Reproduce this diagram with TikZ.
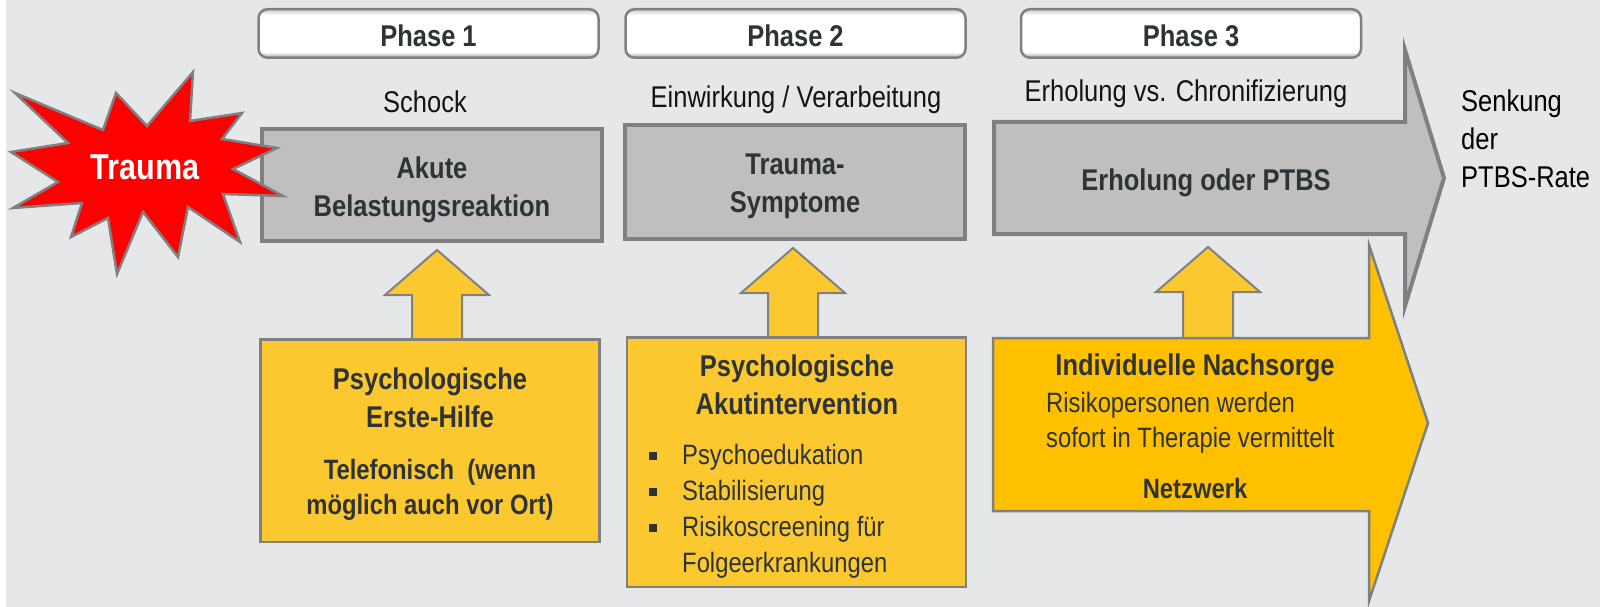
\documentclass[tikz,border=0pt]{standalone}
\usepackage{fontspec}
\setmainfont{Liberation Sans}[FakeStretch=0.85]
\usetikzlibrary{calc}

\definecolor{bggray}{RGB}{230,231,233}
\definecolor{boxgray}{RGB}{191,191,191}
\definecolor{linegray}{RGB}{128,128,128}
\definecolor{helpyellow}{RGB}{252,200,48}
\definecolor{careyellow}{RGB}{255,192,0}
\definecolor{darktext}{RGB}{46,52,54}
\definecolor{plaintext}{RGB}{20,20,20}
\definecolor{traumared}{RGB}{255,0,0}

% white button with a thin bevel at top and bottom
\pgfdeclareverticalshading{bevel}{100bp}{color(0bp)=(black!38); color(25bp)=(black!38);
  color(31bp)=(white); color(69bp)=(white); color(75bp)=(black!22); color(100bp)=(black!22)}

\tikzset{
  phasebox/.style={draw=linegray, line width=2.5pt, rounded corners=9pt,
    shading=bevel, minimum width=340pt, minimum height=48.5pt, inner sep=0pt,
    text height=27pt, text depth=0pt, text=darktext,
    font=\fontsize{30}{36}\selectfont\bfseries},
  subtitle/.style={anchor=base, inner sep=0pt, text=plaintext,
    font=\fontsize{30}{38}\selectfont},
  reactionbox/.style={draw=linegray, line width=4pt, fill=boxgray,
    minimum width=340pt, inner sep=0pt},
  boxlabel/.style={align=center, inner sep=0pt, text=darktext,
    font=\fontsize{30}{38}\selectfont\bfseries},
  smalllabel/.style={inner sep=0pt, text=darktext,
    font=\fontsize{28}{35}\selectfont},
  helpbox/.style={draw=linegray, line width=2.5pt, fill=helpyellow,
    minimum width=339pt, inner sep=0pt},
  liftarrow/.style={draw=linegray, line width=2pt, fill=helpyellow},
  bigarrow/.style={draw=linegray, line width=4pt, fill=boxgray},
  carearrow/.style={draw=linegray, line width=2.5pt, fill=careyellow},
  starburst/.style={draw=linegray, line width=2.5pt, fill=traumared, line join=miter}
}

% block arrow from a foot coordinate up to just below a box
\newcommand{\liftarrow}[2]{%
  \draw[liftarrow] let \p1=(#1), \p2=(#2) in
    (\x1-25pt,\y1) -- (\x1-25pt,\y2-52pt) -- (\x1-52pt,\y2-52pt) -- (\x1,\y2-7pt)
    -- (\x1+52pt,\y2-52pt) -- (\x1+25pt,\y2-52pt) -- (\x1+25pt,\y1);}

\newcommand{\sqbullet}{\makebox[33.5pt][l]{\rule[5pt]{8pt}{8pt}}}

\begin{document}
\begin{tikzpicture}[x=1pt,y=1pt]
  \useasboundingbox (0,0) rectangle (1600,-607);
  % Background
  \fill[white] (0,0) rectangle (1600,-607);
  \fill[bggray] (6,0) rectangle (1600,-607);

  % Phase headers
  \node[phasebox] (phase1) at (428.5,-33.5) {Phase 1};
  \node[phasebox] (phase2) at (795.5,-33.5) {Phase 2};
  \node[phasebox] (phase3) at (1191,-33.5) {Phase 3};

  % Subtitles
  \node[subtitle] (shock) at (425,-113) {Schock};
  \node[subtitle] (impact) at (796,-108) {Einwirkung / Verarbeitung};
  \node[subtitle] (recovery) at (1186,-102) {Erholung vs. Chronifizierung};

  % Reaction boxes
  \node[reactionbox, minimum height=112pt] (akute) at (432,-185) {};
  \node[reactionbox, minimum height=114pt] (symptome) at (795,-182) {};
  \draw[bigarrow] (994,-122) -- (1405,-122) -- (1405,-50) -- (1444,-178)
    -- (1405,-306) -- (1405,-234) -- (994,-234) -- cycle;

  % Lift arrows
  \coordinate (foot1) at (437,-339);
  \coordinate (foot2) at (793,-337);
  \coordinate (foot3) at (1208,-338);
  \coordinate (gap3) at (1208,-240);
  \liftarrow{foot1}{akute.south}
  \liftarrow{foot2}{symptome.south}
  \liftarrow{foot3}{gap3}

  % Help boxes
  \node[helpbox, minimum height=202.5pt] (ersthilfe) at (430,-440.5) {};
  \node[helpbox, minimum height=249.5pt] (intervention) at (796.5,-462) {};
  \draw[carearrow] (993,-338) -- (1369,-338) -- (1369,-245) -- (1428,-423)
    -- (1369,-601) -- (1369,-511) -- (993,-511) -- cycle;

  % Trauma star
  \draw[starburst] (15,-93) -- (103,-130) -- (116,-93) -- (147,-126) -- (193,-72)
    -- (190,-121) -- (242,-113) -- (222,-139) -- (277,-148) -- (233,-169)
    -- (283,-196) -- (223,-194) -- (240,-242) -- (188,-207) -- (178,-257)
    -- (143,-212) -- (117,-274) -- (108,-218) -- (71,-237) -- (82,-203)
    -- (13,-208) -- (58,-182) -- (11,-152) -- (68,-143) -- cycle;
  \node[inner sep=0pt, text=white, font=\fontsize{36}{40}\selectfont\bfseries]
    (trauma) at (145,-167) {Trauma};

  % Labels
  \node[boxlabel] (akutelabel) at ([yshift=-4.7pt]akute.center) {Akute\\Belastungsreaktion};
  \node[boxlabel] (symptomelabel) at ([yshift=-4pt]symptome.center) {Trauma-\\Symptome};
  \node[boxlabel, anchor=base] (ptbslabel) at (1206,-190) {Erholung oder PTBS};

  \node[boxlabel] (ehtitle) at (430,-398) {Psychologische\\Erste-Hilfe};
  \node[smalllabel, align=center, font=\fontsize{28}{35}\selectfont\bfseries]
    (ehtext) at (430,-490) {Telefonisch~ (wenn\\möglich auch vor Ort)};

  \node[boxlabel] (aititle) at (797,-385) {Psychologische\\Akutintervention};
  \node[smalllabel, align=left, anchor=west, font=\fontsize{28}{36}\selectfont]
    (aitext) at (648.5,-511.7) {\sqbullet Psychoedukation\\\sqbullet Stabilisierung\\
      \sqbullet Risikoscreening für\\\hspace*{33.5pt}Folgeerkrankungen};

  \node[boxlabel, anchor=base] (nstitle) at (1195,-375) {Individuelle Nachsorge};
  \node[smalllabel, align=left, anchor=west] (nstext) at (1046,-422.3)
    {Risikopersonen werden\\sofort in Therapie vermittelt};
  \node[boxlabel, anchor=base, font=\fontsize{28}{35}\selectfont\bfseries]
    (network) at (1195,-498) {Netzwerk};

  \node[subtitle, anchor=west, align=left, text=black] (outcome) at (1461,-139)
    {Senkung\\der\\PTBS-Rate};
\end{tikzpicture}
\end{document}
